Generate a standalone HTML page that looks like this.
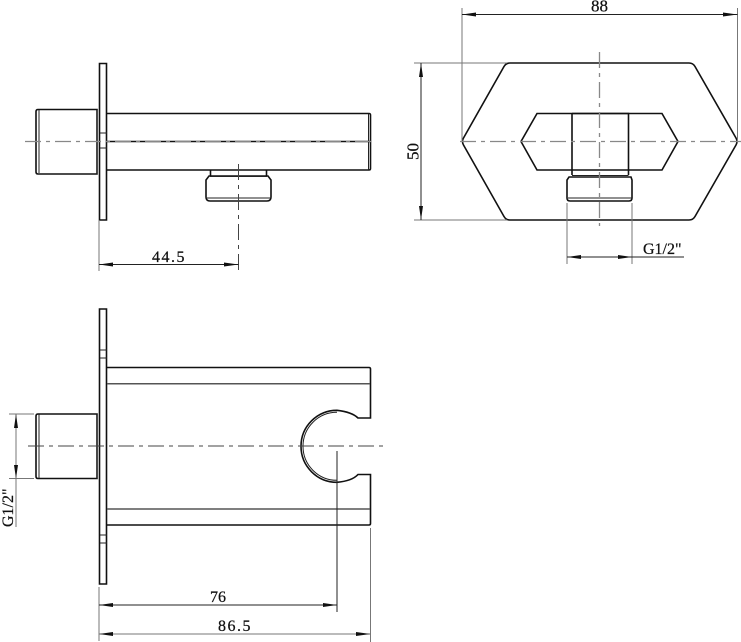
<!DOCTYPE html>
<html><head><meta charset="utf-8"><style>
html,body{margin:0;padding:0;background:#fff;width:741px;height:642px;overflow:hidden}
svg{display:block}
text{font-family:"Liberation Serif",serif;fill:#111;stroke:#111;stroke-width:.25}
.o{fill:none;stroke:#111;stroke-width:1.6}
.t{fill:none;stroke:#222;stroke-width:1}
.g{fill:none;stroke:#777;stroke-width:1}
.c{fill:none;stroke:#444;stroke-width:1;stroke-dasharray:16 5 4 5}
.d{fill:none;stroke:#888;stroke-width:1.3;stroke-dasharray:16 5 4 5}
.a{fill:#111;stroke:none}
</style></head><body>
<svg width="741" height="642" viewBox="0 0 741 642" xmlns="http://www.w3.org/2000/svg">
<!-- Top-left view -->
<path class="o" d="M100 63.5H106.5V220H99.5V63.5Z"/>
<path class="t" d="M100 133H107M100 148H107"/>
<path class="o" d="M38 109.5H97V174H38Q36 174 36 172V111.500Q36 109.500 38 109.500Z"/>
<path class="t" d="M39 110V173M97 110V174"/>
<path class="o" d="M107 113.500H369Q370.500 113.500 370.500 115V168.500Q370.500 170 369 170H107"/>
<path class="t" d="M368.500 114V170"/>
<path class="o" d="M107 141.500H370"/>
<path class="o" d="M210.500 170.500V176M266.500 170.500V176"/>
<path class="o" d="M209 176H268L271 180V197Q271 201 267 201H210Q206 201 206 197V180Z"/>
<path class="t" d="M210 176.500H267M207 198H270"/>
<path class="d" d="M25 141.500H374"/>
<path class="c" d="M238.500 164V271" stroke-dasharray="12 6 4 6"/>
<path class="g" d="M99 220V271"/>
<path class="t" d="M99 264.500H238.500"/>
<path class="a" d="M99 264.500L113 262.500V266.500ZM238.500 264.500L224 262.500V266.500Z"/>
<text x="152" y="262" font-size="16" letter-spacing="1.500">44.5</text>

<!-- Top-right view -->
<path class="o" d="M510 63H689Q693 63 695 66.500L736 138Q738 141.500 736 145L695 216.500Q693 220 689 220H510Q506 220 504 216.500L463.500 145Q461.500 141.500 463.500 138L504 66.500Q506 63 510 63Z"/>
<path class="o" d="M537 113.500H662L678 141.500L662 170H537L521 141.500Z"/>
<path class="o" d="M572 113.500H628.500V175M572 113.500V175"/>
<path class="t" d="M572 175.500H628.500"/>
<path class="o" d="M569 177H631L632 180V198Q632 201 629 201H570Q567 201 567 198V180Z"/>
<path class="t" d="M568 198H632"/>
<path class="d" d="M460 141.500H741"/>
<path class="d" d="M599.500 52V226"/>
<path class="g" d="M462 8V141M737.500 8V141M414 63H507M414 220H507M567 203V264M632 203V264"/>
<path class="t" d="M462 14.500H737.500M421 63V220M567 257H684"/>
<path class="a" d="M462 14.500L476 12.500V16.500ZM737.500 14.500L723 12.500V16.500ZM421 63L419 77H423ZM421 220L419 206H423ZM567 257L581 255V259ZM632 257L618 255V259Z"/>
<text x="591" y="11.500" font-size="17">88</text>
<text transform="translate(418.500 160) rotate(-90)" font-size="17">50</text>
<text x="643" y="254" font-size="16">G1/2"</text>

<!-- Bottom view -->
<path class="o" d="M100 309H106.500V584H99.500V309Z"/>
<path class="t" d="M100 350H107M100 358H107M100 535H107M100 543H107"/>
<path class="o" d="M38 414H97V478.500H38Q36 478.500 36 476.500V416Q36 414 38 414Z"/>
<path class="t" d="M39 414.500V478M97 414.500V478.500"/>
<path class="o" d="M107 367.500H369Q370.500 367.500 370.500 369V418H358Q352 412 337 410.300A36 36 0 0 0 337 482.300Q352 481 358 474.500H370.500V523.500Q370.500 525 369 525H107"/>
<path class="t" d="M337 412.300A34 34 0 0 0 337 480.300"/>
<path d="M107 383.700H370M107 509H370" fill="none" stroke="#555" stroke-width="1.500"/>
<path class="c" d="M28 446H388"/>
<path class="t" d="M337 451V612"/>
<path class="g" d="M99 587V641M370.500 528V642M9 414H34M9 478.500H34"/>
<path class="t" d="M99 605H337"/>
<path class="g" d="M99 634H370.500M16 414V527"/>
<path class="a" d="M99 605L113 603V607ZM337 605L323 603V607ZM99 634L113 632V636ZM370.500 634L356 632V636ZM16 414L14 428H18ZM16 478.500L14 465H18Z"/>
<text x="210" y="602" font-size="16">76</text>
<text x="218" y="631" font-size="16" letter-spacing="1.500">86.5</text>
<text transform="translate(13 527) rotate(-90)" font-size="16">G1/2"</text>
</svg>
</body></html>
